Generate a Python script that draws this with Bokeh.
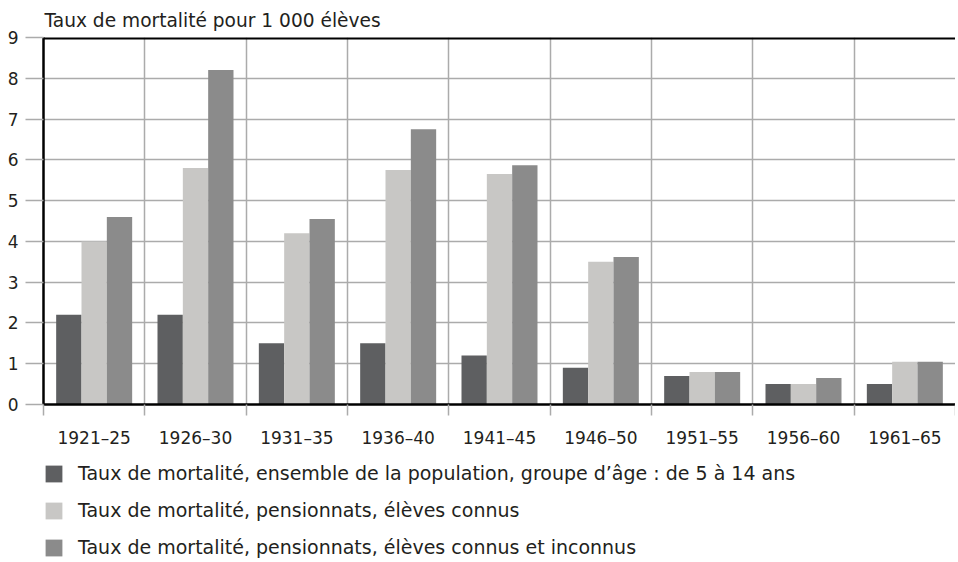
import numpy as np
from bokeh.plotting import figure
from bokeh.layouts import column
from bokeh.models import FixedTicker, Legend, LegendItem, Span, Range1d, ColumnDataSource
from bokeh.embed import file_html
from bokeh.resources import INLINE

categories = ["1921–25", "1926–30", "1931–35", "1936–40", "1941–45",
              "1946–50", "1951–55", "1956–60", "1961–65"]
pop_5_14 = [2.2, 2.2, 1.5, 1.5, 1.2, 0.9, 0.7, 0.5, 0.5]
pens_connus = [4.0, 5.8, 4.2, 5.75, 5.65, 3.5, 0.8, 0.5, 1.05]
pens_tous = [4.6, 8.2, 4.55, 6.75, 5.87, 3.62, 0.8, 0.65, 1.05]
series_names = [
    "Taux de mortalité, ensemble de la population, groupe d’âge : de 5 à 14 ans",
    "Taux de mortalité, pensionnats, élèves connus",
    "Taux de mortalité, pensionnats, élèves connus et inconnus",
]
colors = ["#5e5f61", "#c8c7c5", "#8b8b8b"]
y_ticks = list(range(0, 10))

FONT = "DejaVu Sans"
TXT = "#231f20"
GRID = "#ababab"
FS = "17px"
FS_TITLE = "18.6px"
FS_LEG = "19px"

n = len(categories)
centers = np.arange(n) + 0.5
bounds = list(range(0, n + 1))

p = figure(frame_width=912, frame_height=367, output_backend="svg", toolbar_location=None,
           x_range=Range1d(0, n), y_range=Range1d(0, 9),
           min_border_left=43, min_border_right=0, min_border_top=0,
           min_border_bottom=0)
p.outline_line_color = None
p.background_fill_color = "white"
p.border_fill_color = "white"

p.title.text = "Taux de mortalité pour 1 000 élèves"
p.title.text_font = FONT
p.title.text_font_size = FS_TITLE
p.title.text_font_style = "normal"
p.title.text_color = TXT
p.title.align = "left"
p.title.offset = 1
p.title.standoff = 14

renderers = []
offs = [-0.25, 0.0, 0.25]
for vals, col, off in zip([pop_5_14, pens_connus, pens_tous], colors, offs):
    src = ColumnDataSource(dict(x=centers + off, top=vals))
    r = p.vbar(x="x", top="top", bottom=0, width=0.25, source=src,
               fill_color=col, line_color=None)
    renderers.append(r)

# grids
p.xgrid.ticker = FixedTicker(ticks=bounds)
p.xgrid.grid_line_color = GRID
p.xgrid.grid_line_width = 1.5
p.ygrid.ticker = FixedTicker(ticks=y_ticks)
p.ygrid.grid_line_color = GRID
p.ygrid.grid_line_width = 1.5

# x axis
xa = p.xaxis[0]
xa.ticker = FixedTicker(ticks=list(centers), minor_ticks=bounds)
xa.major_label_overrides = {float(c): lab for c, lab in zip(centers, categories)}
xa.major_tick_out = 0
xa.major_tick_in = 0
xa.minor_tick_out = 11
xa.minor_tick_in = 0
xa.minor_tick_line_color = GRID
xa.minor_tick_line_width = 1.5
xa.axis_line_color = "black"
xa.axis_line_width = 2.5
xa.major_label_text_font = FONT
xa.major_label_text_font_size = FS
xa.major_label_text_color = TXT
xa.major_label_standoff = 12

# y axis
ya = p.yaxis[0]
ya.ticker = FixedTicker(ticks=y_ticks)
ya.major_tick_out = 18
ya.major_tick_in = 0
ya.major_tick_line_color = GRID
ya.major_tick_line_width = 1.5
ya.minor_tick_line_color = None
ya.axis_line_color = "black"
ya.axis_line_width = 2.5
ya.major_label_text_font = FONT
ya.major_label_text_font_size = FS
ya.major_label_text_color = TXT
ya.major_label_standoff = 7

p.add_layout(Span(location=9, dimension="width", line_color="black", line_width=4))

# legend in a separate strip below the chart
p2 = figure(width=950, height=108, output_backend="svg", toolbar_location=None,
            x_range=Range1d(0, 1), y_range=Range1d(0, 1),
            x_axis_location=None, y_axis_location=None,
            min_border_left=0, min_border_right=0, min_border_top=0, min_border_bottom=0)
p2.grid.visible = False
p2.outline_line_color = None
dummies = []
for col in colors:
    src = ColumnDataSource(dict(x=[-10.0], top=[-10.0]))
    r = p2.vbar(x="x", top="top", bottom=-20, width=0.1, source=src,
                fill_color=col, line_color=None)
    dummies.append(r)

legend = Legend(items=[LegendItem(label=nm, renderers=[r]) for nm, r in zip(series_names, dummies)],
                location=(0, 0), orientation="vertical",
                glyph_width=21, glyph_height=21, spacing=15, label_standoff=14,
                label_text_font=FONT, label_text_font_size=FS_LEG, label_text_color=TXT,
                border_line_color=None, background_fill_alpha=0,
                margin=0, padding=0)
p2.add_layout(legend, "center")

open("out.html", "w").write(file_html(column(p, p2, spacing=0), INLINE))
